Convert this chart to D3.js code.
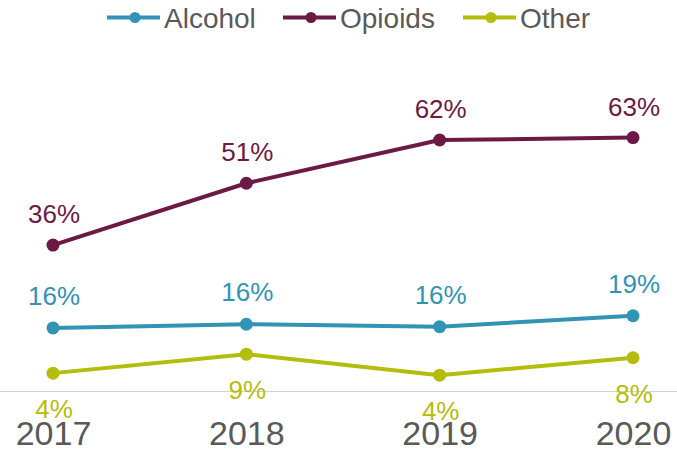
<!DOCTYPE html>
<html>
<head>
<meta charset="utf-8">
<script src="https://cdn.jsdelivr.net/npm/d3@7"></script>
<style>
  html, body { margin: 0; padding: 0; background: #fff; }
  svg { display: block; font-family: "Liberation Sans", Arial, sans-serif; }
</style>
</head>
<body>
<svg id="chart" width="677" height="454"></svg>
<script>
// ---- data ----
const years = ["2017", "2018", "2019", "2020"];
const alcohol = [15.5, 16.4, 15.8, 18.5];
const opioids = [36, 51.3, 62, 62.6];
const other = [4.3, 9.0, 3.8, 8.1];
const seriesNames = ["Alcohol", "Opioids", "Other"];
const seriesColors = ["#3194b4", "#6b1a45", "#b4bc0c"];

const series = [
  { name: seriesNames[0], values: alcohol, color: seriesColors[0], off: -23 },
  { name: seriesNames[1], values: opioids, color: seriesColors[1], off: -22 },
  { name: seriesNames[2], values: other, color: seriesColors[2], off: 45 }
];

const svg = d3.select("#chart");
const W = 677, H = 454;

const x = d3.scalePoint().domain(years).range([53, 633]);
const y = d3.scaleLinear().domain([0, 70]).range([390.5, 107.7]);
const baseY = 391;

// baseline
svg.append("line")
  .attr("x1", 0).attr("x2", W)
  .attr("y1", baseY + 0.5).attr("y2", baseY + 0.5)
  .attr("stroke", "#d4d4d4").attr("stroke-width", 1);

// x axis
const axis = svg.append("g")
  .attr("transform", `translate(0,${baseY})`)
  .call(d3.axisBottom(x).tickSize(0));
axis.select(".domain").remove();
axis.selectAll("text")
  .attr("y", 54).attr("dy", 0)
  .attr("fill", "#595959")
  .style("font-family", "'Liberation Sans', Arial, sans-serif")
  .style("font-size", "34px");

const line = d3.line()
  .x((d, i) => x(years[i]))
  .y(d => y(d));

series.forEach(s => {
  const g = svg.append("g");
  g.append("path")
    .datum(s.values)
    .attr("d", line)
    .attr("fill", "none")
    .attr("stroke", s.color)
    .attr("stroke-width", 4)
    .attr("stroke-linejoin", "round");
  g.selectAll("circle")
    .data(s.values)
    .join("circle")
    .attr("cx", (d, i) => x(years[i]))
    .attr("cy", d => y(d))
    .attr("r", 6.5)
    .attr("fill", s.color);
  g.selectAll("text")
    .data(s.values)
    .join("text")
    .attr("x", (d, i) => x(years[i]) + 1)
    .attr("y", d => y(d) + s.off)
    .attr("text-anchor", "middle")
    .attr("fill", s.color)
    .style("font-size", "26px")
    .text(d => Math.round(d) + "%");
});

// legend
const legendX = [107, 283, 463];
const legendY = 17.5;
series.forEach((s, i) => {
  const g = svg.append("g").attr("transform", `translate(${legendX[i]},${legendY})`);
  g.append("line")
    .attr("x1", 0).attr("x2", 53)
    .attr("y1", 0).attr("y2", 0)
    .attr("stroke", s.color).attr("stroke-width", 4);
  g.append("circle").attr("cx", 28).attr("cy", 0).attr("r", 5.5).attr("fill", s.color);
  g.append("text")
    .attr("x", 57).attr("y", 10.5)
    .attr("fill", "#595959")
    .style("font-size", "28px")
    .text(s.name);
});
</script>
</body>
</html>
